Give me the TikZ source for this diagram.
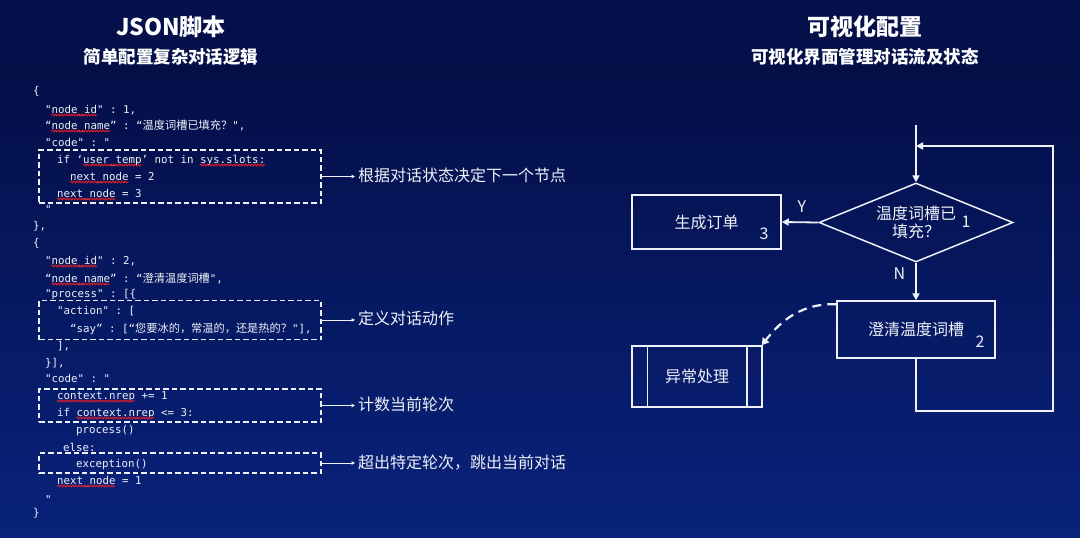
\documentclass[tikz,border=0pt]{standalone}
\usepackage{fontspec}
\setmainfont{Noto Sans CJK SC}
\setmonofont{DejaVu Sans Mono}
\newfontfamily\cjkf{Noto Sans CJK SC}
\usetikzlibrary{shapes.geometric,arrows.meta,decorations.pathmorphing,calc}
\definecolor{bgtop}{RGB}{10,25,88}
\definecolor{bgmid}{RGB}{4,15,72}
\definecolor{bglow}{RGB}{8,32,118}
\definecolor{bgbot}{RGB}{12,44,146}
\definecolor{fg}{RGB}{238,241,248}
\definecolor{wavered}{RGB}{225,30,40}
\pgfdeclareverticalshading{bgshade}{100bp}{color(0bp)=(bgbot); color(30bp)=(bglow); color(68bp)=(bgmid); color(100bp)=(bgtop)}
\newcommand\zh[1]{{\cjkf\fontsize{11.2}{12}\selectfont #1}}
\def\cw{6.5}
\begin{document}
\begin{tikzpicture}[x=1pt,y=-1pt,
  code/.style={font=\ttfamily\fontsize{10.8}{12}\selectfont, text=fg, inner sep=0pt, anchor=base west},
  wavy/.style={wavered, line width=0.9pt, decorate, decoration={snake, amplitude=0.9pt, segment length=3pt}},
  dbox/.style={draw=fg, dashed, dash pattern=on 5.5pt off 3pt, line width=1.1pt, minimum width=282pt},
  note/.style={font=\fontsize{16}{18}\selectfont, text=fg, inner sep=0pt, anchor=west},
  tip/.style={draw=fg, line width=0.8pt, -{Triangle[length=3.5pt,width=3.5pt]}, shorten >=3pt},
  box/.style={draw=fg, line width=1.5pt, font=\fontsize{16}{18}\selectfont, text=fg, inner sep=0pt},
  lab/.style={font=\fontsize{16}{18}\selectfont, text=fg, inner sep=0pt},
  arr/.style={draw=fg, line width=1.8pt, -{Triangle[length=7pt,width=7pt]}},
  darr/.style={draw=fg, line width=2.2pt, dash pattern=on 9pt off 6pt, -{Triangle[length=7pt,width=8pt]}}
]
\shade[shading=bgshade] (0,0) rectangle (1080,538);
\useasboundingbox (0,0) rectangle (1080,538);

% titles
\node[font=\bfseries\fontsize{23}{26}\selectfont, text=white] (tl) at (171,27) {JSON脚本};
\node[font=\bfseries\fontsize{17.5}{20}\selectfont, text=white] (sl) at (171,57) {简单配置复杂对话逻辑};
\node[font=\bfseries\fontsize{23}{26}\selectfont, text=white] (tr) at (865,27) {可视化配置};
\node[font=\bfseries\fontsize{17.5}{20}\selectfont, text=white] (sr) at (865,57) {可视化界面管理对话流及状态};

% code lines
\node[code] (l1) at (33,94) {\{};
\node[code] (l2) at (45,113) {"node\_id" : 1,};
\node[code] (l3) at (45,129) {“node\_name” : “\zh{温度词槽已填充？}",};
\node[code] (l4) at (45,146) {"code" : "};
\node[code] (l5) at (57,163) {if ‘user\_temp’ not in sys.slots:};
\node[code] (l6) at (70,180) {next\_node = 2};
\node[code] (l7) at (57,197) {next\_node = 3};
\node[code] (l8) at (45,213) {"};
\node[code] (l9) at (33,229) {\},};
\node[code] (l10) at (33,246) {\{};
\node[code] (l11) at (45,264) {"node\_id" : 2,};
\node[code] (l12) at (45,282) {“node\_name” : “\zh{澄清温度词槽}",};
\node[code] (l13) at (45,297) {"process" : [\{};
\node[code] (l14) at (57,314) {"action" : [};
\node[code] (l15) at (70,332) {“say” : [“\zh{您要冰的，常温的，还是热的？}"],};
\node[code] (l16) at (57,349) {],};
\node[code] (l17) at (45,366) {\}],};
\node[code] (l18) at (45,382) {"code" : "};
\node[code] (l19) at (57,399) {context.nrep += 1};
\node[code] (l20) at (57,416) {if context.nrep <= 3:};
\node[code] (l21) at (76,433) {process()};
\node[code] (l22) at (63,451) {else:};
\node[code] (l23) at (76,467) {exception()};
\node[code] (l24) at (57,484) {next\_node = 1};
\node[code] (l25) at (45,503) {"};
\node[code] (l26) at (33,516) {\}};

% spell-check wavy underlines
\foreach \n/\a/\b in {l2/1/8, l3/1/10, l5/4/13, l5/22/32, l6/0/9, l7/0/9, l11/1/8, l12/1/10, l19/0/12, l20/3/15, l24/0/9}{
  \draw[wavy] ([xshift=\a*\cw pt, yshift=-2pt]\n.base west) -- ([xshift=\b*\cw pt, yshift=-2pt]\n.base west);
}

% dashed boxes
\node[dbox, minimum height=53pt] (b1) at (180,176.5) {};
\node[dbox, minimum height=39pt] (b2) at (180,320) {};
\node[dbox, minimum height=33pt] (b3) at (180,405.5) {};
\node[dbox, minimum height=20pt] (b4) at (180,463) {};

% notes
\node[note] (t1) at (358,175) {根据对话状态决定下一个节点};
\node[note] (t2) at (358,318) {定义对话动作};
\node[note] (t3) at (358,404) {计数当前轮次};
\node[note] (t4) at (358,463) {超出特定轮次，跳出当前对话};
\draw[tip] (b1.east) -- (b1.east -| t1.west);
\draw[tip] (b2.east) -- (b2.east -| t2.west);
\draw[tip] (b3.east) -- (b3.east -| t3.west);
\draw[tip] (b4.east) -- (b4.east -| t4.west);

% flowchart
\node[box, diamond, aspect=2.46, minimum width=194pt, minimum height=79pt, align=center] (d1) at (916,222.5) {温度词槽已\\填充？};
\node[lab] (n1) at (966,222) {1};
\node[box, minimum width=149pt, minimum height=54pt] (r3) at (706.5,222) {生成订单};
\node[lab] (n3) at (764,234) {3};
\node[box, minimum width=158pt, minimum height=57pt] (r2) at (916,329.5) {澄清温度词槽};
\node[lab] (n2) at (980,342) {2};
\node[box, minimum width=130pt, minimum height=61pt] (r4) at (697,376.5) {异常处理};
\draw[fg, line width=1.5pt] ([xshift=16pt]r4.north west) -- ([xshift=16pt]r4.south west);
\draw[fg, line width=1.5pt] ([xshift=-16pt]r4.north east) -- ([xshift=-16pt]r4.south east);

\coordinate (in) at (916,125);
\coordinate (lb) at (1053,411);
\coordinate (lp) at (916,146);
\draw[arr] (in) -- (d1.north);
\draw[arr] (d1.west) -- (r3.east) node[lab, pos=0.45, above=9pt] (ly) {Y};
\draw[arr] (d1.south) -- (r2.north) node[lab, pos=0.3, left=10pt] (lnn) {N};
\draw[arr] (r2.south) |- (lb) |- (lp);
\draw[darr] ([yshift=-4pt]r2.north west) to[out=178, in=52] ([xshift=-1pt]r4.north east);
\end{tikzpicture}
\end{document}
